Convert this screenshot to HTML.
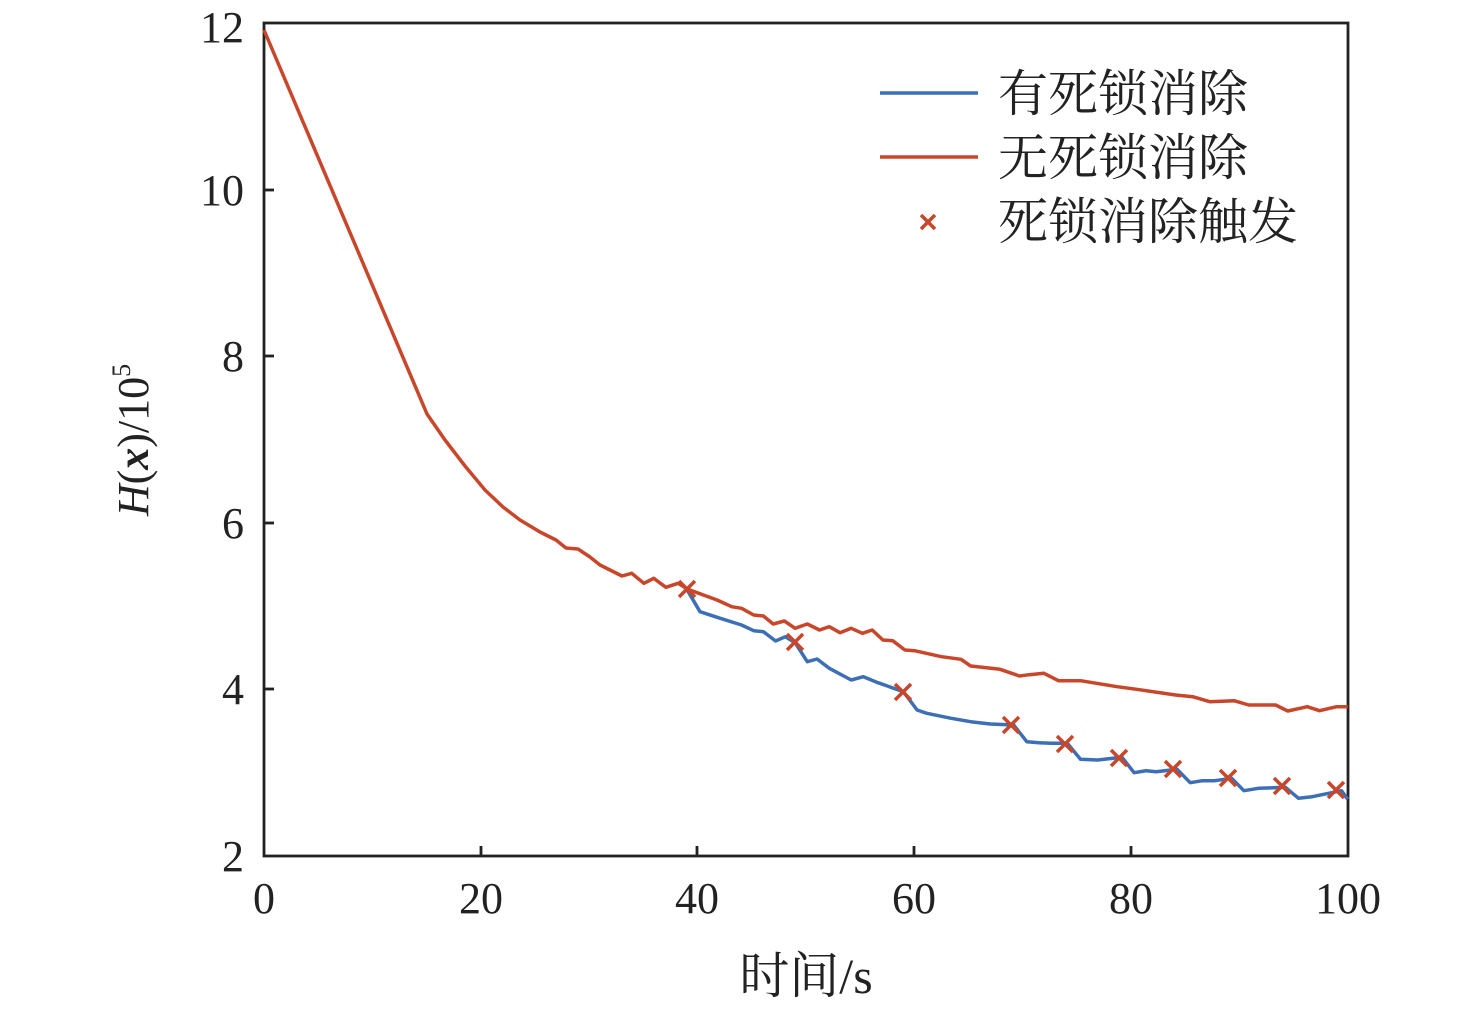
<!DOCTYPE html>
<html><head><meta charset="utf-8"><style>
html,body{margin:0;padding:0;background:#fff;}
svg{display:block}
.t{font-family:"Liberation Serif","Times New Roman",serif;font-size:44px;fill:#222}
.c{font-family:"Liberation Serif","Noto Serif CJK SC",serif;font-size:50px;fill:#222}
</style></head><body>
<svg id="s" width="1476" height="1011" viewBox="0 0 1476 1011" xmlns="http://www.w3.org/2000/svg">
<g stroke="#222" stroke-width="2.8" fill="none">
<rect x="264" y="23" width="1084" height="833"/>
<line x1="481" y1="856" x2="481" y2="846"/><line x1="697" y1="856" x2="697" y2="846"/>
<line x1="914" y1="856" x2="914" y2="846"/><line x1="1131" y1="856" x2="1131" y2="846"/>
<line x1="264" y1="689" x2="274" y2="689"/><line x1="264" y1="523" x2="274" y2="523"/>
<line x1="264" y1="356" x2="274" y2="356"/><line x1="264" y1="190" x2="274" y2="190"/>
</g>
<g class="t" text-anchor="middle">
<text x="264" y="913">0</text><text x="481" y="913">20</text><text x="697" y="913">40</text>
<text x="914" y="913">60</text><text x="1131" y="913">80</text><text x="1348" y="913">100</text>
</g>
<g class="t" text-anchor="end">
<text x="244" y="871">2</text><text x="244" y="704">4</text><text x="244" y="538">6</text>
<text x="244" y="371">8</text><text x="244" y="205">10</text><text x="244" y="42">12</text>
</g>
<text class="c" x="806" y="993" text-anchor="middle">时间/s</text>
<text class="t" transform="translate(148,440) rotate(-90)" text-anchor="middle"><tspan font-style="italic">H</tspan>(<tspan font-weight="bold" font-style="italic">x</tspan>)/10<tspan font-size="26" dy="-18">5</tspan></text>
<polyline id="red" fill="none" stroke="#c8472a" stroke-width="3.5" stroke-linejoin="round"/>
<polyline id="blue" fill="none" stroke="#3d6fb6" stroke-width="3.5" stroke-linejoin="round"/>
<g id="cr" stroke="#c8472a" stroke-width="3.5"></g>
<line x1="880" y1="93" x2="978" y2="93" stroke="#3d6fb6" stroke-width="3.5"/>
<line x1="880" y1="157" x2="978" y2="157" stroke="#c8472a" stroke-width="3.5"/>
<g stroke="#c8472a" stroke-width="3.5"><line x1="921" y1="215" x2="935" y2="229"/><line x1="921" y1="229" x2="935" y2="215"/></g>
<text class="c" x="998" y="111">有死锁消除</text>
<text class="c" x="998" y="175">无死锁消除</text>
<text class="c" x="998" y="239">死锁消除触发</text>
</svg>
<script>
function tr(a){return a.map(p=>[600+p[0]/2.05,560+p[1]/3]);}
var pre=[[264,30],[427,414],[445,440],[465,466],[485,490],[503,507],[520,520],[540,532],[556,540],[566,548],[578,549],[590,557]];
var r=tr([[0,15],[45,48],[65,40],[90,70],[110,55],[135,82],[160,70],[180,88],[240,120],[270,140],[290,145],[315,165],[335,168],[355,192],[378,183],[400,205],[425,192],[450,210],[470,200],[492,218],[515,205],[538,220],[558,210],[580,240],[600,242],[625,270],[645,272],[700,290],[740,298],[760,318],[820,328],[860,348],[880,344],[910,340],[940,362],[985,362],[1060,380],[1100,388],[1180,405],[1215,410],[1250,425],[1300,422],[1330,435],[1385,435],[1410,453],[1450,440],[1475,452],[1510,440],[1533,440]]);
var b=tr([[178,88],[205,155],[240,172],[290,195],[315,212],[335,215],[360,243],[380,230],[400,248],[425,305],[445,297],[470,325],[515,360],[540,350],[570,368],[622,395],[650,450],[670,460],[720,475],[760,485],[800,492],[848,495],[875,545],[900,548],[925,550],[958,550],[985,598],[1020,600],[1070,592],[1095,638],[1120,632],[1140,635],[1183,628],[1210,668],[1235,662],[1260,662],[1295,655],[1320,692],[1350,685],[1405,682],[1432,715],[1460,710],[1520,692],[1533,718]]);
var f=a=>a.map(p=>p[0].toFixed(1)+","+p[1].toFixed(1)).join(" ");
document.getElementById("red").setAttribute("points",f(pre.concat(r)));
document.getElementById("blue").setAttribute("points",f(b));
var cs=[[687,589],[795,642],[903,692],[1011,725],[1065,744],[1119,758],[1173,769],[1228,778],[1282,786],[1336,790]];
var g=document.getElementById("cr"),h="";
cs.forEach(c=>{var x=c[0],y=c[1];h+='<line x1="'+(x-8)+'" y1="'+(y-8)+'" x2="'+(x+8)+'" y2="'+(y+8)+'"/><line x1="'+(x-8)+'" y1="'+(y+8)+'" x2="'+(x+8)+'" y2="'+(y-8)+'"/>';});
g.innerHTML=h;
</script>
</body></html>
